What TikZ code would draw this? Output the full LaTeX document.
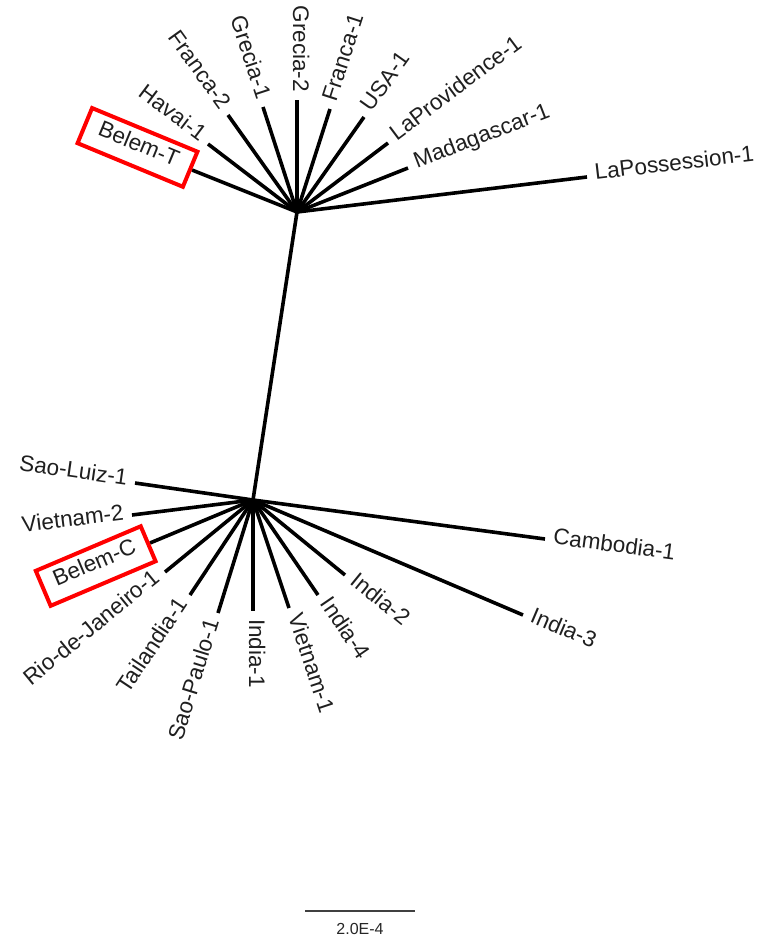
\documentclass[tikz,border=0pt]{standalone}
\usepackage{fontspec}
\setmainfont{Liberation Sans}
\begin{document}
\begin{tikzpicture}[x=1pt,y=-1pt,
  branch/.style={line width=3.6pt},
  lab/.style={font=\fontsize{22.5}{26}\selectfont, text=black!88, inner xsep=8pt, inner ysep=0pt, text height=1.45ex, text depth=0pt},
  redbox/.style={draw=red, line width=4pt, minimum width=114pt, minimum height=38pt, inner sep=0pt},
  scalebar/.style={line width=1.3pt, black!75},
  scalelab/.style={font=\fontsize{16}{18}\selectfont, text=black!85, inner sep=0pt}]
\useasboundingbox (0,0) rectangle (760,936);
\coordinate (h1) at (297,212);
\coordinate (h2) at (253,500);
\draw[branch] (h1) -- (h2);
% top cluster
\foreach \n/\x/\y/\r/\a/\t in {
  havai/208/144/-37/east/Havai-1,
  franca2/228/115/-54.3/east/Franca-2,
  grecia1/263/107/-71.9/east/Grecia-1,
  grecia2/297/100/-90/east/Grecia-2,
  franca1/330/109/72.1/west/Franca-1,
  usa/364/117/54.5/west/USA-1,
  lapro/388/143/36.8/west/LaProvidence-1,
  mada/408/168/21.2/west/Madagascar-1,
  lapos/587/177/6.7/west/LaPossession-1}{
  \coordinate (\n) at (\x,\y);
  \draw[branch] (h1) -- (\n);
  \node[lab, anchor=\a, rotate=\r] (t\n) at (\n) {\t};
}
\coordinate (belemt) at (192,170);
\draw[branch] (h1) -- (belemt);
\node[lab, redbox, anchor=east, rotate=-22.5] (tbelemt) at (belemt) {Belem-T};
% bottom cluster
\foreach \n/\x/\y/\r/\a/\t in {
  saoluiz/135/483/-8.2/east/Sao-Luiz-1,
  vietnam2/132/515/7.1/east/Vietnam-2,
  rio/165/572/39.3/east/Rio-de-Janeiro-1,
  tail/190/595/56.4/east/Tailandia-1,
  saopaulo/218/613/72.8/east/Sao-Paulo-1,
  india1/253/611/-90/west/India-1,
  vietnam1/289/608/-71.6/west/Vietnam-1,
  india4/318/595/-55.6/west/India-4,
  india2/345/575/-39.2/west/India-2,
  india3/523/615/-23.1/west/India-3,
  cambodia/545/539/-7.6/west/Cambodia-1}{
  \coordinate (\n) at (\x,\y);
  \draw[branch] (h2) -- (\n);
  \node[lab, anchor=\a, rotate=\r] (t\n) at (\n) {\t};
}
\coordinate (belemc) at (150,543);
\draw[branch] (h2) -- (belemc);
\node[lab, redbox, anchor=east, rotate=23] (tbelemc) at (belemc) {Belem-C};
% scale bar
\coordinate (s1) at (305,911);
\coordinate (s2) at (415,911);
\draw[scalebar] (s1) -- (s2);
\node[scalelab, anchor=base] (slab) at (360,934) {2.0E-4};
\end{tikzpicture}
\end{document}
